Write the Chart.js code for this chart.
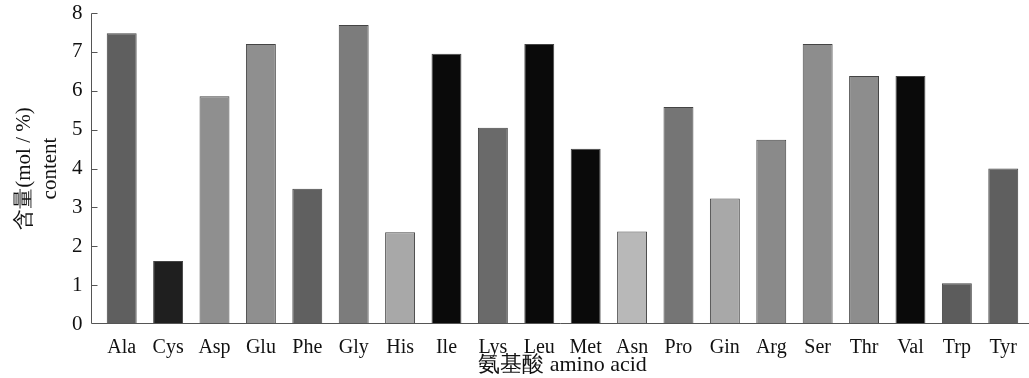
<!DOCTYPE html>
<html><head><meta charset="utf-8">
<script src="https://cdn.jsdelivr.net/npm/chart.js@4"></script>
<style>html,body{margin:0;padding:0;background:#fff}#wrap{width:1029px;height:378px}</style>
</head><body><div id="wrap"><canvas id="c"></canvas></div>
<script>
const categories = ['Ala','Cys','Asp','Glu','Phe','Gly','His','Ile','Lys','Leu','Met','Asn','Pro','Gin','Arg','Ser','Thr','Val','Trp','Tyr'];
const values = [7.48,1.62,5.86,7.2,3.48,7.69,2.36,6.95,5.05,7.2,4.51,2.38,5.58,3.23,4.74,7.2,6.38,6.38,1.05,4.0];
const barColors = ['#5f5f5f','#1f1f1f','#8f8f8f','#8f8f8f','#606060','#7c7c7c','#a8a8a8','#0a0a0a','#6a6a6a','#0a0a0a','#0a0a0a','#b8b8b8','#757575','#a8a8a8','#8a8a8a','#8d8d8d','#8d8d8d','#0a0a0a','#5c5c5c','#5f5f5f'];
const yTicks = [0,1,2,3,4,5,6,7,8];
const yTitle = ['含量(mol / %)','content'];
const xTitle = '氨基酸 amino acid';
const FONT = "'Liberation Serif','DejaVu Serif',serif";
const AXIS_GAP = 8;

const axesPlugin = {
  id:'axesPlugin',
  afterDraw(chart){
    const ctx = chart.ctx, y = chart.scales.y, a = chart.chartArea;
    const ax = Math.round(a.left - AXIS_GAP) + 0.5;
    const by = Math.round(y.getPixelForValue(0)) - 0.5;
    ctx.save();
    ctx.strokeStyle = '#555'; ctx.lineWidth = 1;
    ctx.beginPath();
    ctx.moveTo(ax, Math.round(y.getPixelForValue(8)) + 0.5);
    ctx.lineTo(ax, by);
    ctx.lineTo(chart.width, by);
    ctx.stroke();
    yTicks.forEach(v=>{
      if (v === 0) return;
      const py = Math.round(y.getPixelForValue(v)) + 0.5;
      ctx.beginPath(); ctx.moveTo(ax, py); ctx.lineTo(ax + 6, py); ctx.stroke();
    });
    ctx.restore();
  }
};

new Chart(document.getElementById('c'), {
  type:'bar',
  data:{labels:categories, datasets:[{data:values, backgroundColor:barColors, borderColor:'#444', borderWidth:1, categoryPercentage:1, barPercentage:0.645}]},
  options:{
    responsive:true, maintainAspectRatio:false, animation:false,
    layout:{padding:{top:0,right:0,left:0,bottom:0}},
    plugins:{legend:{display:false}, tooltip:{enabled:false}},
    scales:{
      x:{
        grid:{display:false, drawTicks:false},
        border:{display:false},
        ticks:{color:'#111', font:{family:FONT, size:20}, padding:12, maxRotation:0, autoSkip:false},
        title:{display:true, text:xTitle, color:'#111', font:{family:FONT, size:22}, padding:{top:0,bottom:0}},
        afterFit(s){ s.height = 54; }
      },
      y:{
        min:0, max:8,
        afterBuildTicks(s){ s.ticks = yTicks.map(v=>({value:v})); },
        grid:{display:false, drawTicks:false},
        border:{display:false},
        ticks:{color:'#111', font:{family:FONT, size:21}, padding:16},
        title:{display:true, text:yTitle, color:'#111', font:{family:FONT, size:21, lineHeight:1.25}, padding:{top:11,bottom:0}},
        afterFit(s){ s.width = 98.5; s.paddingTop = 13; s.paddingBottom = 0; }
      }
    }
  },
  plugins:[axesPlugin]
});
</script></body></html>
